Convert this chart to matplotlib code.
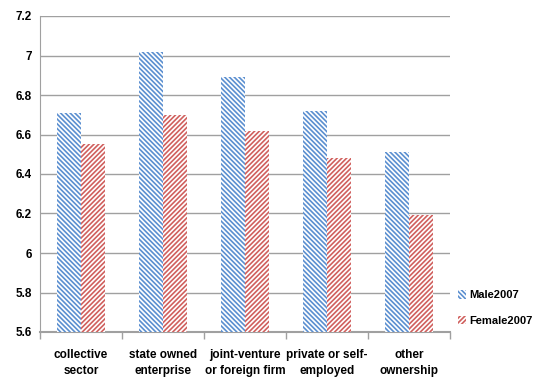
import numpy as np
import matplotlib.pyplot as plt
from matplotlib.patches import Patch

# Data
categories = ['collective\nsector', 'state owned\nenterprise', 'joint-venture\nor foreign firm',
              'private or self-\nemployed', 'other\nownership']
male_2007 = [6.71, 7.02, 6.89, 6.72, 6.51]
female_2007 = [6.55, 6.70, 6.62, 6.48, 6.19]
yticks = [5.6, 5.8, 6.0, 6.2, 6.4, 6.6, 6.8, 7.0, 7.2]
ytick_labels = ['5.6', '5.8', '6', '6.2', '6.4', '6.6', '6.8', '7', '7.2']

blue = '#5b8fd0'
red = '#d0605e'
grid_col = '#a0a0a0'

plt.rcParams['font.family'] = ['Liberation Sans Narrow', 'Liberation Sans', 'DejaVu Sans']
plt.rcParams['hatch.linewidth'] = 1.2

male_hatch = '\\' * 7
female_hatch = '/' * 7

fig = plt.figure(figsize=(5.36, 3.81), dpi=100)
ax = fig.add_axes([40 / 536, 49 / 381, 410 / 536, 316 / 381])

x = np.arange(len(categories))
w = 0.287
ax.bar(x - w / 2, male_2007, w, color='white', edgecolor=blue, hatch=male_hatch, linewidth=0, zorder=3)
ax.bar(x + w / 2, female_2007, w, color='white', edgecolor=red, hatch=female_hatch, linewidth=0, zorder=3)

ax.set_xlim(-0.5, len(categories) - 0.5)
ax.set_ylim(5.6, 7.2)
ax.set_yticks(yticks)
ax.set_yticklabels(ytick_labels, fontsize=8.5, fontweight='bold')
ax.yaxis.grid(True, color=grid_col, linewidth=1.0, zorder=0)
ax.set_axisbelow(True)

ax.set_xticks(np.arange(len(categories) + 1) - 0.5, minor=True)
ax.set_xticks(x)
ax.set_xticklabels(categories, fontsize=8.5, fontweight='bold', linespacing=1.5)
ax.tick_params(axis='x', which='major', length=0, pad=12)
ax.tick_params(axis='x', which='minor', length=5, color=grid_col, width=1)
ax.tick_params(axis='y', length=0, pad=6)

for side in ['top', 'right']:
    ax.spines[side].set_visible(False)
ax.spines['left'].set_color(grid_col)
ax.spines['bottom'].set_color(grid_col)
ax.spines['bottom'].set_linewidth(1.5)

handles = [Patch(facecolor='white', edgecolor=blue, hatch=male_hatch, linewidth=0),
           Patch(facecolor='white', edgecolor=red, hatch=female_hatch, linewidth=0)]
fig.legend(handles, ['Male2007', 'Female2007'], loc='upper left',
           bbox_to_anchor=(448 / 536, 1 - 280 / 381), frameon=False,
           prop={'size': 8, 'weight': 'bold'}, handlelength=0.7, handleheight=0.8,
           handletextpad=0.3, labelspacing=1.4)

fig.savefig('out.png', dpi=100)
